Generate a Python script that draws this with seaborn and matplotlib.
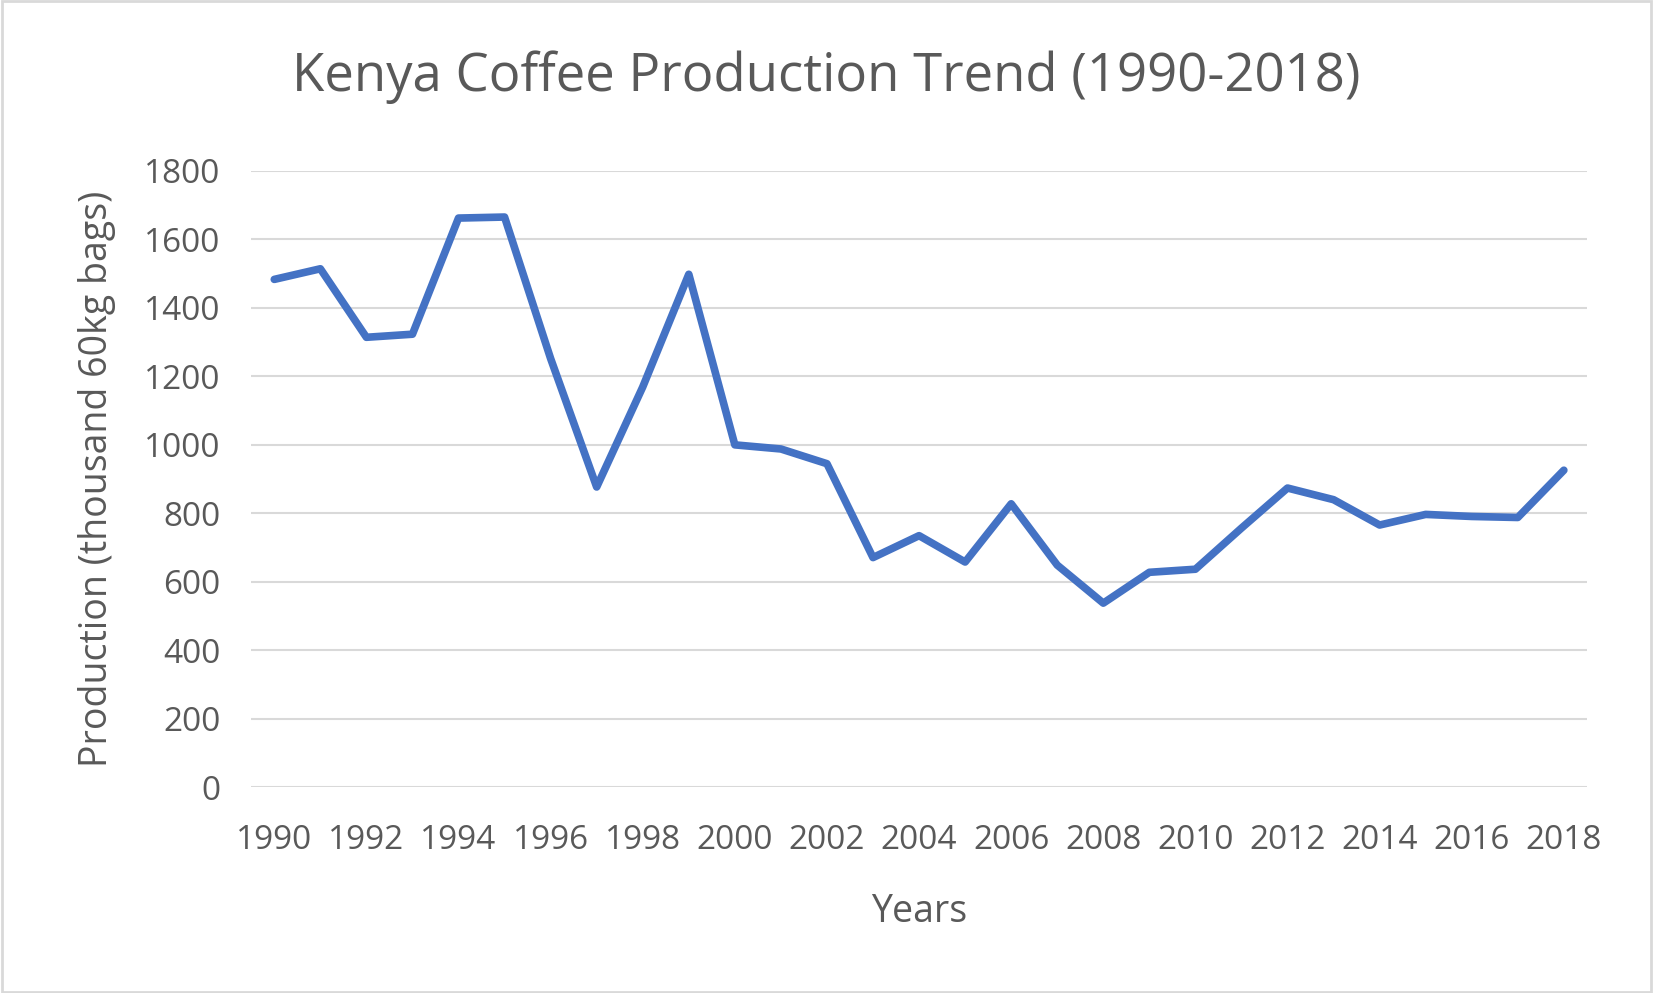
import matplotlib
matplotlib.use("Agg")
import matplotlib.pyplot as plt
import seaborn as sns
import pandas as pd

years = list(range(1990, 2019))
production = [1483, 1514, 1314, 1323, 1662, 1665, 1252, 877, 1169, 1498,
              1000, 988, 945, 671, 735, 658, 828, 649, 538, 628,
              637, 757, 874, 840, 766, 797, 791, 788, 926]
xticks = list(range(1990, 2019, 2))
yticks = list(range(0, 1801, 200))

sns.set_theme(style="white")
plt.rcParams['font.family'] = ['Open Sans', 'DejaVu Sans']

df = pd.DataFrame({"Year": years, "Production": production})
fig = plt.figure(figsize=(16.53, 9.93), dpi=100)
ax = fig.add_axes([0.152, 0.207, 0.808, 0.621])
sns.lineplot(data=df, x="Year", y="Production", ax=ax, color="#4472C4", linewidth=5.5)

ax.set_xlim(1989.5, 2018.5)
ax.set_ylim(0, 1800)
ax.set_xticks(xticks)
ax.set_yticks(yticks)
ax.tick_params(axis='both', labelsize=24, labelcolor="#595959", length=0)
ax.tick_params(axis='x', pad=26)
ax.tick_params(axis='y', pad=22)
ax.grid(axis='y', color="#d9d9d9", linewidth=1.5)
for s in ax.spines.values():
    s.set_visible(False)
ax.set_xlabel("Years", fontsize=27, color="#595959", labelpad=26)
ax.set_ylabel("Production (thousand 60kg bags)", fontsize=27, color="#595959", labelpad=20)
fig.text(0.5, 0.922, "Kenya Coffee Production Trend (1990-2018)", ha="center", va="center",
         fontsize=38, color="#595959")
fig.patches.append(plt.Rectangle((0.001, 0.001), 0.998, 0.998, transform=fig.transFigure,
                                 fill=False, edgecolor="#d9d9d9", linewidth=2))
fig.savefig("out.png", dpi=100)
